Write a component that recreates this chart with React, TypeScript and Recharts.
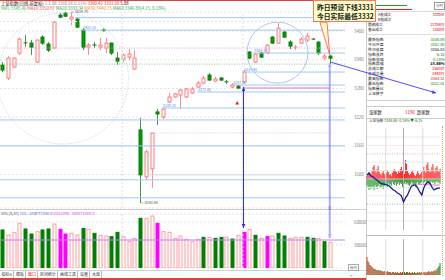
import React from 'react'
import {
  ComposedChart,
  Bar,
  Line,
  XAxis,
  YAxis,
  CartesianGrid,
  ReferenceLine,
  ReferenceDot,
  Cell
} from 'recharts'

const FONT = "'Noto Sans CJK SC', 'DejaVu Sans', sans-serif"

// daily candles, oldest first (index points)
const opens = [
  3329.0, 3301.9, 3324.8, 3354.1, 3375.5, 3374.9, 3335.3, 3387.5, 3372.9, 3364.5,
  3433.4, 3437.6, 3425.1, 3425.1, 3402.1, 3366.6, 3370.9, 3366.6, 3364.5, 3374.9,
  3343.6, 3341.5, 3345.7, 3320.7, 3193.3, 3095.2, 3111.9, 3230.9, 3220.4, 3251.8,
  3262.2, 3266.4, 3262.2, 3270.5, 3283.1, 3291.4, 3308.1, 3295.6, 3301.9, 3293.9,
  3283.1, 3285.2, 3293.5, 3356.2, 3335.3, 3354.1, 3354.1, 3387.5, 3374.9, 3397.9,
  3377.0, 3366.0, 3374.9, 3381.2, 3383.3, 3377.0, 3343.6, 3347.8
]
const closes = [
  3318.6, 3343.6, 3343.6, 3383.3, 3374.9, 3366.6, 3381.2, 3374.9, 3360.3, 3418.8,
  3429.2, 3431.3, 3429.2, 3408.4, 3366.6, 3370.8, 3370.3, 3370.8, 3374.9, 3354.1,
  3337.4, 3349.9, 3352.0, 3343.6, 3099.3, 3147.4, 3186.6, 3226.7, 3237.1, 3262.2,
  3268.5, 3276.8, 3278.9, 3278.9, 3291.4, 3301.9, 3297.7, 3299.8, 3297.7, 3293.5,
  3287.2, 3281.0, 3314.4, 3343.6, 3352.0, 3345.7, 3370.8, 3374.9, 3406.3, 3387.5,
  3368.7, 3366.6, 3383.3, 3389.6, 3383.0, 3354.1, 3347.8, 3343.6
]
const highs = [
  3335.3, 3347.8, 3345.7, 3387.5, 3391.6, 3381.2, 3383.3, 3391.6, 3377.0, 3420.9,
  3437.6, 3439.7, 3439.7, 3427.1, 3406.3, 3374.9, 3377.0, 3385.4, 3385.4, 3376.0,
  3356.2, 3354.1, 3362.4, 3360.3, 3218.3, 3151.5, 3187.0, 3237.1, 3239.0, 3270.5,
  3270.5, 3278.9, 3281.0, 3283.1, 3295.6, 3306.0, 3312.3, 3304.0, 3304.0, 3297.7,
  3291.4, 3287.2, 3318.6, 3358.3, 3354.1, 3356.2, 3372.9, 3389.6, 3416.7, 3400.0,
  3381.2, 3370.8, 3387.5, 3395.8, 3385.4, 3379.0, 3352.0, 3349.9
]
const lows = [
  3314.4, 3297.7, 3322.7, 3349.9, 3366.6, 3349.9, 3333.2, 3370.8, 3356.2, 3362.4,
  3427.1, 3429.2, 3412.5, 3406.3, 3360.3, 3349.9, 3364.5, 3360.3, 3354.1, 3349.9,
  3329.0, 3335.3, 3339.4, 3318.6, 3040.9, 3088.9, 3072.2, 3203.7, 3216.3, 3249.7,
  3260.1, 3237.1, 3260.1, 3268.5, 3281.0, 3289.3, 3295.6, 3293.5, 3295.6, 3289.3,
  3281.0, 3278.9, 3291.4, 3341.5, 3333.2, 3343.6, 3352.0, 3372.9, 3372.9, 3385.4,
  3362.4, 3360.3, 3372.9, 3377.0, 3381.2, 3349.9, 3339.4, 3332.0
]
const volumes = [
  49600, 43000, 46100, 58200, 50900, 44300, 47400, 49600, 50900, 57400,
  50400, 44300, 45200, 43000, 51700, 50400, 45200, 42600, 41700, 40900,
  46500, 40900, 34300, 38700, 64800, 64800, 67800, 58200, 47400, 46500,
  38700, 41700, 37400, 34300, 37400, 40000, 40000, 38700, 40000, 40000,
  37800, 42600, 46500, 50400, 42600, 38700, 40900, 41700, 45200, 41700,
  38700, 40000, 40000, 40000, 38700, 38700, 34300, 33500
]
// g = down (green), r = up (hollow red), m = highlighted (magenta)
const volumeKinds = 'grrrggrggrmmrrgrgrrggrrrgrrmrrrrrrrgrggrgrmrgrmrggrrrggrg'

const priceTicks = [
  3040, 3060, 3080, 3100, 3120, 3140, 3160, 3180, 3200, 3220,
  3240, 3260, 3280, 3300, 3320, 3340, 3360, 3380, 3400
]
const volumeTicks = [15000, 30000, 45000, 60000]

// drawn support / resistance lines: level and the bar where each starts
const userLevels = [3428.2, 3402.1, 3354.1, 3314.4, 3287.2, 3272.6, 3239.2]
const userLevelStart = [12.7, 13.9, 43.7, 41.9, 40.0, 33.9, 27.8]
const fullLevels = [3214.2, 3159.9, 3088.9, 3051.3]

// intraday (today), sampled across the session
const intradayPrice = [
  3357.7, 3359.0, 3357.0, 3356.4, 3355.0, 3354.4, 3353.0, 3352.0, 3351.7, 3351.4,
  3351.0, 3350.4, 3349.0, 3347.7, 3347.0, 3345.7, 3345.0, 3343.7, 3339.7, 3342.4,
  3344.4, 3347.7, 3350.4, 3351.0, 3351.0, 3349.0, 3346.4, 3344.4, 3349.0, 3351.7,
  3353.0, 3352.4, 3349.7, 3347.7, 3348.4, 3349.0, 3348.9
]
const intradayAvg = [3356.4, 3355.7, 3354.4, 3353.4, 3352.4, 3351.7, 3351.7, 3351.4, 3351.0, 3351.0]
const intradayRed = [
  3, 5, 7, 6, 4, 8, 12, 14, 9, 6, 10, 13, 7, 5, 4, 6, 8, 5, 3, 6,
  9, 7, 4, 5, 3, 6, 8, 10, 9, 7, 5, 8, 6, 10, 12, 9, 6, 5, 19, 15,
  8, 6, 4, 5, 7, 9, 6, 4, 3, 5, 8, 6, 4, 5, 7, 9, 12, 8, 6, 14,
  17, 10, 7, 9, 12, 15, 8, 6, 11, 13, 9, 7, 10
]
const intradayGreen = [
  -6, -9, -11, -8, -10, -7, -9, -11, -6, -8, -10, -7, -5, -9, -8, -6, -10, -7, -5, -6,
  -8, -4, -6, -5, -7, -3, -5, -6, -4, -7, -5, -3, -6, -4, -5, -8, -6, -4, -3, -5,
  -4, -6, -7, -5, -3, -4, -6, -5, -8, -4, -3, -5, -6, -4, -3, -5, -4, -3, -2, -4,
  -3, -5, -4, -3, -2, -4, -3, -5, -3, -2, -4, -3, -5
]
const intradayVol = [
  18, 14, 12, 10, 9, 8, 7, 6, 6, 5, 5, 5, 4, 5, 4, 4, 3, 4, 3, 3,
  4, 3, 3, 3, 2, 3, 3, 2, 3, 2, 3, 2, 2, 3, 2, 3, 4, 3, 2, 3,
  3, 2, 3, 2, 2, 3, 2, 3, 2, 2, 3, 2, 3, 2, 3, 2, 3, 3, 2, 3,
  3, 4, 3, 3, 4, 3, 4, 5, 4, 6, 7, 9, 12
]
const intradayVolKinds = 'rgrgrrgrgrgrrgrgrrgrgrrgrrgrgrrgrrrgrgrrgrgrrgrgrrgrgrrggrgrrgrgrgrrgrg'
const prevClose = 3355.03
const intradayGrid = [3383.0, 3377.4, 3366.2, 3360.6, 3349.4, 3343.8, 3332.6, 3327.0]

const panelLabels = ['A股成交', 'B股成交', '国债成交', '基金成交', '最新指数', '今日开盘', '昨日收盘', '指数涨跌',
  '指数涨幅', '指数振幅', '总成交额', '总成交量', '最高指数', '最低指数', '指数量比', '上证换手']
const panelValues = ['3330亿', '', '22359万', '1580亿', '3348.88', '3352.40', '3355.03', '-6.15',
  '-0.18%', '15.88%', '3560亿', '3440万', '3364.32', '3332.01', '', '']
const panelColors = ['#e00000', '#000', '#e00000', '#e00000', '#008000', '#008000', '#000', '#008000',
  '#008000', '#000', '#e00000', '#e00000', '#e00000', '#008000', '#000', '#000']

const tabs = ['指标A', '模板', '窗口', '区间统计', '画线工具', '设置', '大盘']

const candles = opens.map((o, i) => ({
  i,
  open: o,
  close: closes[i],
  high: highs[i],
  low: lows[i],
  range: [lows[i], highs[i]],
  vol: volumes[i],
  kind: volumeKinds[i]
}))

const intraday = intradayRed.map((r, k) => ({
  k,
  red: r,
  green: intradayGreen[k],
  price: k % 2 === 0 ? intradayPrice[k / 2] : null,
  avg: k % 8 === 0 ? intradayAvg[k / 8] : null,
  vol: intradayVol[k],
  kind: intradayVolKinds[k]
}))

const X_DOMAIN: [number, number] = [-0.35, 59.65]
const VOL_MAX = 70400

function Candle(p: any) {
  const { x, y, width, height, payload } = p
  if (!payload) return null
  const top = Math.min(y, y + height)
  const bottom = Math.max(y, y + height)
  const k = (bottom - top) / (payload.high - payload.low || 1)
  const yo = top + (payload.high - payload.open) * k
  const yc = top + (payload.high - payload.close) * k
  const cx = Math.round(x + width / 2) + 0.5
  const up = payload.close > payload.open
  const stroke = up ? '#ff7a7a' : '#0a7a0a'
  const wick = up ? '#ff8c8c' : '#3f9a3f'
  const bt = Math.min(yo, yc)
  const bh = Math.abs(yo - yc)
  return (
    <g>
      <line x1={cx} x2={cx} y1={top} y2={bottom} stroke={wick} strokeWidth={1} />
      {bh < 1 ? (
        <line x1={cx - 2} x2={cx + 2} y1={bt} y2={bt} stroke={stroke} strokeWidth={1} />
      ) : (
        <rect x={cx - 1.5} y={bt} width={3} height={bh} fill={up ? '#fff' : '#00a000'} stroke={stroke} strokeWidth={1} />
      )}
    </g>
  )
}

function VolBar(p: any) {
  const { x, y, width, height, payload } = p
  if (!payload) return null
  const cx = Math.round(x + width / 2) + 0.5
  const kind = payload.kind
  const fill = kind === 'g' ? '#008000' : kind === 'm' ? '#ff00ff' : '#fff'
  const stroke = kind === 'g' ? '#008000' : kind === 'm' ? '#ff00ff' : '#ff9c9c'
  return <rect x={cx - 1.5} y={y} width={3} height={height} fill={fill} stroke={stroke} strokeWidth={1} />
}

function head(x: number, y: number, dx: number, dy: number, color: string) {
  const len = Math.hypot(dx, dy) || 1
  const ux = dx / len
  const uy = dy / len
  const L = 4
  const W = 1.8
  const bx = x - ux * L
  const by = y - uy * L
  return (
    <polygon
      points={`${x},${y} ${bx - uy * W},${by + ux * W} ${bx + uy * W},${by - ux * W}`}
      fill={color}
    />
  )
}

function arrow(color: string, width: number, startHead: boolean, endHead: boolean, opacity = 1) {
  return (p: any) => {
    const { x1, y1, x2, y2 } = p
    return (
      <g opacity={opacity}>
        <line x1={x1} y1={y1} x2={x2} y2={y2} stroke={color} strokeWidth={width} />
        {startHead && head(x1, y1, x1 - x2, y1 - y2, color)}
        {endHead && head(x2, y2, x2 - x1, y2 - y1, color)}
      </g>
    )
  }
}

function levelLine(label: string) {
  return (p: any) => {
    const { x1, y1, x2, y2 } = p
    return (
      <g>
        <line x1={x1} y1={y1} x2={x2} y2={y2} stroke="#9fc8f2" strokeWidth={1} />
        <text x={x1 + 1} y={y1 - 1.2} fontSize={3.6} fill="#5b8fd6" fontFamily={FONT}>{label}</text>
      </g>
    )
  }
}

function extremeTag(label: string) {
  return (p: any) => {
    const { x1, y1, x2 } = p
    return (
      <g>
        <line x1={x1} y1={y1} x2={x2} y2={y1} stroke="#888" strokeWidth={0.6} />
        <text x={x2 + 0.8} y={y1 + 1.3} fontSize={3.8} fill="#555" fontFamily={FONT}>{label}</text>
      </g>
    )
  }
}

function pointer(p: any) {
  const { x1, y1, x2, y2 } = p
  return (
    <polygon
      points={`${x1 - 3.5},${y1} ${x1 + 3.5},${y1} ${x2},${y2}`}
      fill="#ffffc8"
      stroke="#ff4a4a"
      strokeWidth={0.8}
    />
  )
}

const rightTick = (p: any) => (
  <text x={p.x} y={p.y} dy={1.6} fontSize={4.4} fill="#777" fontFamily={FONT}>
    {p.payload.value}
  </text>
)

const abs = (left: number, top: number, extra: React.CSSProperties = {}): React.CSSProperties => ({
  position: 'absolute',
  left,
  top,
  whiteSpace: 'nowrap',
  ...extra
})

export default function App() {
  return (
    <div
      style={{
        position: 'absolute',
        left: 0,
        top: 0,
        width: 445,
        height: 280,
        overflow: 'hidden',
        background: '#fff',
        fontFamily: FONT
      }}
    >
      {/* window frame */}
      <div style={abs(0, 0, { width: 366, height: 1, background: '#e04040' })} />
      <div style={abs(0, 278, { width: 366, height: 1.5, background: '#e04040' })} />
      <div style={abs(366, 0, { width: 1, height: 280, background: '#c8c8c8' })} />
      <div style={abs(0, 209, { width: 366, height: 1, background: '#cfcfcf' })} />
      <div style={abs(0, 270, { width: 366, height: 1, background: '#cfcfcf' })} />

      {/* right quote panel */}
      <div style={abs(369, 4.5, { width: 38, height: 1.2, background: '#20a020' })} />
      <div style={abs(369, 8.5, { width: 43, height: 1.2, background: '#e02020' })} />
      <div style={abs(434, 1.5, { width: 9, height: 6, border: '0.6px solid #999', fontSize: 3.6, lineHeight: '6px', color: '#555', textAlign: 'center' })}>分时</div>
      <div style={abs(367, 11.3, { width: 78, height: 0.6, background: '#ddd' })} />
      <div style={abs(367, 34.2, { width: 78, height: 0.6, background: '#ddd' })} />
      {panelLabels.map((lab, i) => {
        const cy = i < 4 ? 14.6 + i * 5.1 : 39 + (i - 4) * 4.9
        const fs = i < 4 ? 3.7 : 3.9
        // the first rows sit beside the callout box
        const lx = i < 2 ? 378 : 368
        return (
          <React.Fragment key={lab}>
            <div style={abs(lx, cy - 2.1, { fontSize: fs, lineHeight: '4.2px', color: '#222' })}>{lab}</div>
            <div
              style={abs(400, cy - 2.1, {
                width: 44.5,
                textAlign: 'right',
                fontSize: fs,
                lineHeight: '4.2px',
                color: panelColors[i],
                fontWeight: i === 9 ? 700 : 400
              })}
            >
              {panelValues[i]}
            </div>
          </React.Fragment>
        )
      })}
      <div style={abs(367, 100, { width: 78, height: 0.6, background: '#ccc' })} />
      <div style={abs(367, 106, { width: 78, height: 11, borderTop: '0.6px solid #ccc', borderBottom: '0.6px solid #ccc' })} />
      <div style={abs(369, 109.5, { fontSize: 4.3, lineHeight: '5px', color: '#222' })}>涨家数</div>
      <div style={abs(405, 109.5, { fontSize: 4.3, lineHeight: '5px', color: '#e00000' })}>1190</div>
      <div style={abs(417, 109.5, { fontSize: 4.3, lineHeight: '5px', color: '#222' })}>跌家数</div>
      <div style={abs(369, 118.5, { fontSize: 3.6, lineHeight: '4px', color: '#333' })}>
        上证指数 <span style={{ color: '#008000' }}>3348.88 -0.18% ▼-6.15</span>
      </div>
      <div style={abs(442, 126, { width: 0, height: 150, borderLeft: '0.8px dotted #f0a060' })} />

      {/* header */}
      <div style={abs(1, 0.5, { fontSize: 4.3, lineHeight: '5px' })}>
        <span style={{ color: '#111' }}>上证指数(日线,前复权)</span>
        <span style={{ color: '#777' }}> 1.1.88 </span>
        <span style={{ color: '#888' }}> 3368.96 0.11% </span>
        <span style={{ color: '#e03030' }}> 3360.42 </span>
        <span style={{ color: '#e03030' }}> 3331.88 </span>
        <span style={{ color: '#111' }}> 5.88</span>
      </div>
      <div style={abs(1, 5.5, { fontSize: 4.3, lineHeight: '5px' })}>
        <span style={{ color: '#50b050' }}>MA5:3348.46 </span>
        <span style={{ color: '#e05050' }}>MA10:3350.87 </span>
        <span style={{ color: '#40a040' }}>MA20:3333.34 </span>
        <span style={{ color: '#e09030' }}>MA30:3440.75 </span>
        <span style={{ color: '#40a040' }}>MA60:3346.88(4.15, 0.18%)</span>
      </div>

      {/* main price chart */}
      <div style={abs(0, 0)}>
        <ComposedChart width={445} height={210} data={candles} margin={{ top: 12, right: 79, bottom: 2, left: 0 }}>
          <CartesianGrid vertical={false} stroke="#e4e4e4" strokeDasharray="2 2" />
          <XAxis type="number" dataKey="i" domain={X_DOMAIN} hide allowDataOverflow />
          <YAxis
            orientation="right"
            domain={[3030, 3440]}
            ticks={priceTicks}
            width={21}
            axisLine={false}
            tickLine={false}
            tickSize={8}
            tickMargin={1}
            tick={rightTick}
            allowDataOverflow
          />
          <ReferenceLine y={3420} stroke="#e4e4e4" strokeDasharray="2 2" />
          <ReferenceLine x={20.9} stroke="#e0e0e0" strokeDasharray="2 2" />
          <ReferenceLine x={41.9} stroke="#e0e0e0" strokeDasharray="2 2" />
          {fullLevels.map(v => (
            <ReferenceLine key={v} y={v} stroke="#9fc8f2" strokeWidth={1} />
          ))}
          <ReferenceLine y={3364.5} stroke="#e59ae5" strokeDasharray="1 1.5" />
          <ReferenceLine y={3331} stroke="#8cc48c" strokeDasharray="1 1.5" />
          <ReferenceLine segment={[{ x: 25.7, y: 3187 }, { x: 57.5, y: 3187 }]} stroke="#f0b0f0" strokeDasharray="1 1.5" ifOverflow="visible" />
          <ReferenceLine segment={[{ x: 25.7, y: 3099.3 }, { x: 57.3, y: 3099.3 }]} stroke="#d8d8d8" ifOverflow="visible" />
          <ReferenceLine segment={[{ x: 42, y: 3281 }, { x: 57, y: 3281 }]} stroke="#e070e0" ifOverflow="visible" />
          {userLevels.map((v, n) => (
            <ReferenceLine
              key={v}
              segment={[{ x: userLevelStart[n], y: v }, { x: X_DOMAIN[1], y: v }]}
              ifOverflow="visible"
              shape={levelLine(n === 0 ? '' : v.toFixed(2))}
            />
          ))}
          <ReferenceDot x={10.6} y={3300.8} r={65.5} fill="none" stroke="#a8cdf0" strokeDasharray="1 1.6" strokeWidth={0.9} />
          <ReferenceDot x={47.9} y={3355} r={30.5} fill="none" stroke="#98c4f0" strokeWidth={0.9} />
          <ReferenceLine segment={[{ x: 12, y: 3439.7 }, { x: 12.45, y: 3439.7 }]} ifOverflow="visible" shape={extremeTag('3439.70')} />
          <ReferenceLine segment={[{ x: 24, y: 3040.9 }, { x: 24.6, y: 3040.9 }]} ifOverflow="visible" shape={extremeTag('3040.88')} />
          <ReferenceDot
            x={17.7}
            y={3402.1}
            r={2}
            shape={(p: any) => (
              <g stroke="#00b000" strokeWidth={0.9}>
                <line x1={p.cx - 2} x2={p.cx + 2} y1={p.cy} y2={p.cy} />
                <line x1={p.cx} x2={p.cx} y1={p.cy - 2} y2={p.cy + 2} />
              </g>
            )}
          />
          <ReferenceDot
            x={40.9}
            y={3249.7}
            r={2}
            shape={(p: any) => <polygon points={`${p.cx},${p.cy - 2} ${p.cx - 2},${p.cy + 1.5} ${p.cx + 2},${p.cy + 1.5}`} fill="#e02020" />}
          />
          <Bar dataKey="range" barSize={4} isAnimationActive={false} shape={(p: any) => <Candle {...p} />} />
          <ReferenceLine segment={[{ x: 42, y: 3283.1 }, { x: 42, y: 3020 }]} ifOverflow="visible" shape={arrow('#2a2aff', 1, true, false)} />
          <ReferenceLine segment={[{ x: 57, y: 3333.2 }, { x: 57, y: 3020 }]} ifOverflow="visible" shape={arrow('#6a6aff', 2, true, false, 0.55)} />
          <ReferenceLine segment={[{ x: 57.1, y: 3335.3 }, { x: 75.5, y: 3270.5 }]} ifOverflow="visible" shape={arrow('#3a3aff', 0.9, false, true)} />
          <ReferenceLine segment={[{ x: 55.9, y: 3418.8 }, { x: 57, y: 3350.5 }]} ifOverflow="visible" shape={pointer} />
        </ComposedChart>
      </div>

      {/* callout */}
      <div
        style={abs(313, 0, {
          width: 63,
          height: 22,
          background: '#ffffc8',
          border: '1px solid #f07a6a',
          fontSize: 6.8,
          lineHeight: '9px',
          fontWeight: 700,
          color: '#1a1a1a',
          padding: '2px 0 0 3px',
          boxSizing: 'border-box'
        })}
      >
        <div>昨日预设下线3331</div>
        <div>今日实际最低3332</div>
      </div>

      {/* volume */}
      <div style={abs(1, 211, { fontSize: 4, lineHeight: '5px' })}>
        <span style={{ color: '#333' }}>VOL(5,10) </span>
        <span style={{ color: '#3050d0' }}>VOL: 344071000.0 </span>
        <span style={{ color: '#e020e0' }}>VOLUME: 344071000.0</span>
      </div>
      <div style={abs(0, 206)}>
        <ComposedChart width={445} height={64} data={candles} margin={{ top: 8, right: 79, bottom: 2, left: 0 }}>
          <CartesianGrid vertical={false} stroke="#e4e4e4" strokeDasharray="2 2" />
          <XAxis type="number" dataKey="i" domain={X_DOMAIN} hide allowDataOverflow />
          <YAxis
            orientation="right"
            domain={[0, VOL_MAX]}
            ticks={volumeTicks}
            width={21}
            axisLine={false}
            tickLine={false}
            tickSize={8}
            tickMargin={1}
            tick={rightTick}
            allowDataOverflow
          />
          <ReferenceLine x={20.9} stroke="#e0e0e0" strokeDasharray="2 2" />
          <ReferenceLine x={41.9} stroke="#e0e0e0" strokeDasharray="2 2" />
          <ReferenceLine y={36500} stroke="#c080ff" strokeWidth={1} />
          <Bar dataKey="vol" barSize={4} isAnimationActive={false} shape={(p: any) => <VolBar {...p} />} />
          <ReferenceLine segment={[{ x: 42, y: 81000 }, { x: 42, y: 52100 }]} ifOverflow="visible" shape={arrow('#2a2aff', 1, false, true)} />
          <ReferenceLine segment={[{ x: 57, y: 81000 }, { x: 57, y: 39100 }]} ifOverflow="visible" shape={arrow('#6a6aff', 2, false, true, 0.55)} />
        </ComposedChart>
      </div>

      {/* bottom tabs */}
      <div style={abs(0, 271, { display: 'flex', fontSize: 4, lineHeight: '7px' })}>
        {tabs.map((t, i) => (
          <div key={t} style={{ padding: '0 1.5px', borderRight: '0.6px solid #bbb', color: i === 2 ? '#e02020' : '#333' }}>{t}</div>
        ))}
      </div>
      <div style={abs(348, 264, { fontSize: 3.6, lineHeight: '5px', color: '#555', border: '0.6px solid #aaa', padding: '0 1px' })}>标尺</div>
      <div style={abs(350, 272.5, { fontSize: 4, lineHeight: '5px', color: '#555' })}>+ -</div>

      {/* intraday */}
      <div style={abs(366, 124)}>
        <ComposedChart width={79} height={110} data={intraday} margin={{ top: 4, right: 5, bottom: 4, left: 1 }} stackOffset="sign">
          <XAxis type="number" dataKey="k" domain={[0, 72]} hide />
          <YAxis yAxisId="p" domain={[prevClose - 34, prevClose + 34]} hide />
          <YAxis yAxisId="s" domain={[-51, 51]} hide />
          {intradayGrid.map(v => (
            <ReferenceLine key={v} yAxisId="p" y={v} stroke="#ececec" />
          ))}
          <ReferenceLine yAxisId="p" y={3371.8} stroke="#f0a0f0" strokeDasharray="1 1.5" />
          <ReferenceLine yAxisId="p" y={3338.2} stroke="#90c890" strokeDasharray="1 1.5" />
          <ReferenceLine yAxisId="p" y={prevClose} stroke="#c8c8c8" />
          <ReferenceLine yAxisId="p" x={18.5} stroke="#dadada" />
          <ReferenceLine yAxisId="p" x={36} stroke="#b0b0b0" />
          <ReferenceLine yAxisId="p" x={55} stroke="#dadada" />
          <Bar yAxisId="s" dataKey="red" stackId="s" barSize={1} fill="#ff2a2a" isAnimationActive={false} />
          <Bar yAxisId="s" dataKey="green" stackId="s" barSize={1} fill="#2ea82e" isAnimationActive={false} />
          <Line yAxisId="p" dataKey="avg" stroke="#d070d0" strokeWidth={0.9} dot={false} connectNulls isAnimationActive={false} />
          <Line yAxisId="p" dataKey="price" stroke="#1c1c8c" strokeWidth={1.3} dot={false} connectNulls isAnimationActive={false} />
        </ComposedChart>
      </div>
      <div style={abs(367, 235, { width: 78, height: 0.8, background: '#bbb' })} />
      <div style={abs(366, 236)}>
        <ComposedChart width={79} height={40} data={intraday} margin={{ top: 3, right: 5, bottom: 1, left: 1 }}>
          <XAxis type="number" dataKey="k" domain={[0, 72]} hide />
          <YAxis domain={[0, 36]} hide />
          <ReferenceLine x={18.5} stroke="#dadada" />
          <ReferenceLine x={36} stroke="#b0b0b0" />
          <ReferenceLine x={55} stroke="#dadada" />
          <Bar dataKey="vol" barSize={1} isAnimationActive={false}>
            {intraday.map(d => (
              <Cell key={d.k} fill={d.kind === 'r' ? '#ff2a2a' : '#1f8f1f'} />
            ))}
          </Bar>
        </ComposedChart>
      </div>
    </div>
  )
}
